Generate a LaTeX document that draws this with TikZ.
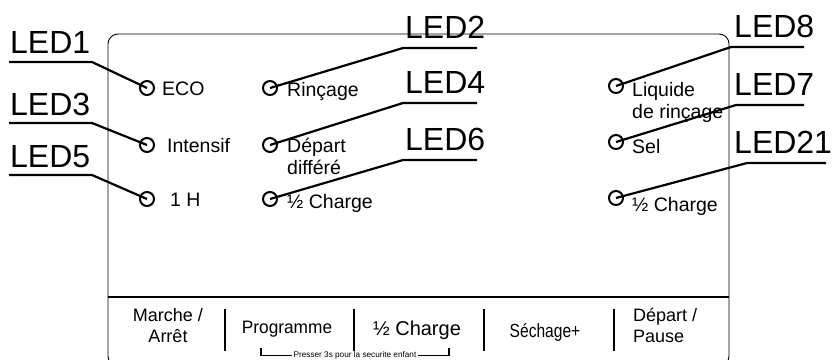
\documentclass[tikz,border=0pt]{standalone}
\usepackage{fontspec}
\setmainfont{Liberation Sans}
\newfontfamily\condfont[FakeStretch=0.82]{Liberation Sans}
\begin{document}
\begin{tikzpicture}[x=1pt,y=-1pt,
  led/.style={font=\fontsize{32}{32}\selectfont, anchor=base west, inner sep=0pt},
  lbl/.style={font=\fontsize{19.5}{21}\selectfont, anchor=base west, inner sep=0pt},
  ledc/.style={circle, draw, line width=2pt, minimum size=14pt, inner sep=0pt},
  leader/.style={line width=2.2pt},
  btn/.style={font=\fontsize{18}{18}\selectfont, anchor=base, inner sep=0pt},
  sep/.style={line width=2pt},
  panel/.style={line width=0.9pt, rounded corners=10pt}]
\useasboundingbox (0,0) rectangle (834,359);
% panel
\draw[panel] (108,34) rectangle (729,366);
\coordinate (hl) at (108,297);
\coordinate (hr) at (729,297);
\draw[line width=1.4pt] (hl) -- (hr);

% LED circles
\node[ledc] (c1) at (147,88) {};
\node[ledc] (c3) at (147,145) {};
\node[ledc] (c5) at (147,199) {};
\node[ledc] (c2) at (270,88) {};
\node[ledc] (c4) at (270,145) {};
\node[ledc] (c6) at (270,199) {};
\node[ledc] (c8) at (616,86) {};
\node[ledc] (c7) at (616,142) {};
\node[ledc] (c21) at (616,198) {};

% texts next to LEDs
\node[lbl] (teco) at (162,95) {ECO};
\node[lbl] (tint) at (167,152) {Intensif};
\node[lbl] (t1h) at (170,206) {1 H};
\node[lbl] (trin) at (287,96) {Rinçage};
\node[lbl] (tdep) at (287,152) {Départ};
\node[lbl] (tdif) at (287,174) {différé};
\node[lbl] (tcha) at (287,208) {½ Charge};
\node[lbl] (tliq) at (632,96) {Liquide};
\node[lbl] (tder) at (632,118) {de rinçage};
\node[lbl] (tsel) at (632,153) {Sel};
\node[lbl] (tchb) at (632,211) {½ Charge};

% LED labels
\node[led] (l1) at (10,53) {LED1};
\node[led] (l3) at (10,115) {LED3};
\node[led] (l5) at (10,167) {LED5};
\node[led] (l2) at (405,38) {LED2};
\node[led] (l4) at (405,93) {LED4};
\node[led] (l6) at (405,150) {LED6};
\node[led] (l8) at (734,37) {LED8};
\node[led] (l7) at (734,95) {LED7};
\node[led] (l21) at (734,153) {LED21};

% leaders
\coordinate (a1) at (9,62);   \coordinate (k1) at (92,62);
\coordinate (a3) at (9,123);  \coordinate (k3) at (92,123);
\coordinate (a5) at (9,175);  \coordinate (k5) at (92,175);
\coordinate (a2) at (477,48); \coordinate (k2) at (403,48);
\coordinate (a4) at (477,103);\coordinate (k4) at (403,103);
\coordinate (a6) at (477,160);\coordinate (k6) at (403,160);
\coordinate (a8) at (804,47); \coordinate (k8) at (731,47);
\coordinate (a7) at (804,105);\coordinate (k7) at (736,105);
\coordinate (a21) at (826,163);\coordinate (k21) at (747,163);
\draw[leader] (a1) -- (k1) -- (c1.center);
\draw[leader] (a3) -- (k3) -- (c3.center);
\draw[leader] (a5) -- (k5) -- (c5.center);
\draw[leader] (a2) -- (k2) -- (c2.center);
\draw[leader] (a4) -- (k4) -- (c4.center);
\draw[leader] (a6) -- (k6) -- (c6.center);
\draw[leader] (a8) -- (k8) -- (c8.center);
\draw[leader] (a7) -- (k7) -- (c7.center);
\draw[leader] (a21) -- (k21) -- (c21.center);

% button separators
\foreach \x [count=\i] in {225,354,484,614} {
  \coordinate (s\i t) at (\x,309);
  \coordinate (s\i b) at (\x,351);
  \draw[sep] (s\i t) -- (s\i b);
}

% buttons
\node[btn] (bm1) at (168,321) {Marche /};
\node[btn] (bm2) at (168,342) {Arrêt};
\node[btn, font=\fontsize{18}{18}\selectfont] (bp) at (287,333) {\addfontfeature{FakeStretch=0.96}Programme};
\node[btn, font=\fontsize{20}{20}\selectfont] (bc) at (417,335) {½ Charge};
\node[btn, font=\fontsize{19}{19}\selectfont\condfont] (bs) at (545,337) {Séchage+};
\node[btn, anchor=base west] (bd1) at (633,321) {Départ /};
\node[btn, anchor=base west] (bd2) at (633,342) {Pause};

% child lock bracket
\node[font=\fontsize{8.2}{9}\selectfont, inner sep=1.5pt] (pr) at (355,355.5) {Presser 3s pour la securite enfant};
\coordinate (bl) at (261,348);
\coordinate (br) at (449,348);
\draw[line width=1.6pt] (bl) -- (bl |- pr.east) -- (pr.west);
\draw[line width=1.6pt] (pr.east) -- (br |- pr.east) -- (br);
\end{tikzpicture}
\end{document}
